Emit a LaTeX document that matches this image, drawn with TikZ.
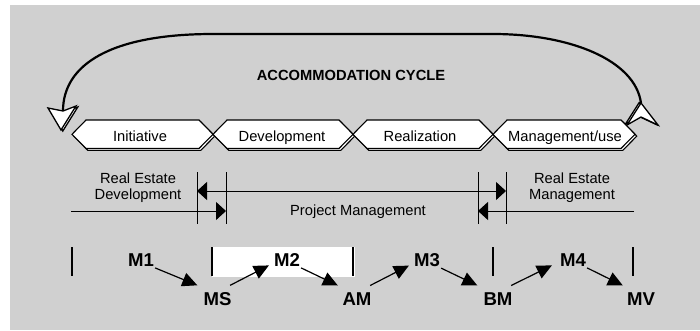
\documentclass[tikz,border=0pt]{standalone}
\usepackage{fontspec}
\setmainfont{Liberation Sans}
\usetikzlibrary{arrows.meta,calc}
\definecolor{bg}{RGB}{208,208,208}
\tikzset{
  hexline/.style={draw=black, line width=1.1pt, fill=white, line join=miter},
  hextext/.style={font=\fontsize{14.7}{16}\selectfont, anchor=base, inner sep=0pt},
  lbl/.style={font=\fontsize{14.7}{16}\selectfont, align=center, inner sep=0pt},
  titlelbl/.style={font=\fontsize{14.7}{16}\selectfont\bfseries, anchor=base, inner sep=0pt},
  mlbl/.style={font=\fontsize{18.6}{20}\selectfont\bfseries, anchor=base, inner sep=1pt},
  dimline/.style={line width=1pt},
  endtip/.style={-{Triangle[length=10pt,width=18pt]}},
  bothtip/.style={{Triangle[length=10pt,width=18pt]}-{Triangle[length=10pt,width=18pt]}},
  marrow/.style={line width=1.2pt, -{Triangle[length=15pt,width=14pt]}},
  tickline/.style={line width=1.2pt},
  cyc/.style={line width=2.2pt},
  headshape/.style={draw=black, line width=1.3pt, fill=white, line join=miter},
}
\begin{document}
\begin{tikzpicture}[x=1pt,y=-1pt]
\useasboundingbox (0,0) rectangle (700,330);
\fill[bg] (10,5) rectangle (700,330);

% cycle arc
\coordinate (cycstart) at (641,103);
\coordinate (cycend) at (63,111);
\draw[cyc] (cycstart) .. controls (635,60) and (570,34) .. (493,34) -- (213,34) .. controls (110,34) and (63,65) .. (cycend);

% arrowheads of the cycle
\draw[headshape, shift={(1.8,1)}] (48,108) -- (63,111) -- (76,106) -- (61,130) -- cycle;
\draw[headshape] (48,108) -- (63,111) -- (76,106) -- (61,130) -- cycle;
\draw[headshape, shift={(-1.8,-0.5)}] (641,103) -- (658,125) -- (641,117) -- (627,125) -- cycle;
\draw[headshape] (641,103) -- (658,125) -- (641,117) -- (627,125) -- cycle;

\node[titlelbl] (title) at (351,80.5) {ACCOMMODATION CYCLE};

% phase hexagons
\foreach \a/\b in {72/213,213/353,353/493,493/635}{
  \draw[hexline, shift={(1.8,1.8)}] (\a,134.3) -- ({\a+14},120) -- ({\b-14},120) -- (\b,134.3) -- ({\b-14},148.5) -- ({\a+14},148.5) -- cycle;
}
\foreach \a/\b in {72/213,213/353,353/493,493/635}{
  \draw[hexline] (\a,134.3) -- ({\a+14},120) -- ({\b-14},120) -- (\b,134.3) -- ({\b-14},148.5) -- ({\a+14},148.5) -- cycle;
}
\node[hextext] (hi) at (140,141.5) {Initiative};
\node[hextext] (hd) at (282,141.5) {Development};
\node[hextext] (hr) at (420,141.5) {Realization};
\node[hextext] (hm) at (565,141.5) {Management/use};

% responsibility lines
\coordinate (v1t) at (197,172); \coordinate (v1b) at (197,224);
\coordinate (v2t) at (226,172); \coordinate (v2b) at (226,224);
\coordinate (v3t) at (478,172); \coordinate (v3b) at (478,224);
\coordinate (v4t) at (506,172); \coordinate (v4b) at (506,224);
\draw[dimline] (v1t) -- (v1b);
\draw[dimline] (v2t) -- (v2b);
\draw[dimline] (v3t) -- (v3b);
\draw[dimline] (v4t) -- (v4b);
\coordinate (a1) at (71,211); \coordinate (a2) at (226,211);
\coordinate (b1) at (197,191); \coordinate (b2) at (506,191);
\coordinate (c1) at (634,211); \coordinate (c2) at (478,211);
\draw[dimline, endtip] (a1) -- (a2);
\draw[dimline, bothtip] (b1) -- (b2);
\draw[dimline, endtip] (c1) -- (c2);

\node[lbl] (red) at (138,187.5) {Real Estate\\Development};
\node[lbl, anchor=base] (pm) at (358,215.7) {Project Management};
\node[lbl] (rem) at (572,187.5) {Real Estate\\Management};

% milestones
\fill[white] (212,247) rectangle (355,277);
\foreach \x in {72,212,353,493,633}{
  \draw[tickline] (\x,247) -- (\x,276);
}
\node[mlbl] (m1) at (141,266.7) {M1};
\node[mlbl] (ms) at (217.5,305) {MS};
\node[mlbl] (m2) at (287,266.7) {M2};
\node[mlbl] (am) at (357,305) {AM};
\node[mlbl] (m3) at (427,266.7) {M3};
\node[mlbl] (bm) at (498,305) {BM};
\node[mlbl] (m4) at (573,266.7) {M4};
\node[mlbl] (mv) at (641,305) {MV};

\draw[marrow] (m1.south east) -- ($(ms.north west)+(-5,-5.5)$);
\draw[marrow] ($(ms.north east)+(-2.5,-5.5)$) -- ($(m2.south west)+(-4,-2.5)$);
\draw[marrow] (m2.south east) -- ($(am.north west)+(-3.5,-5.5)$);
\draw[marrow] ($(am.north east)+(-2.5,-5.5)$) -- ($(m3.south west)+(-4,-2.5)$);
\draw[marrow] (m3.south east) -- ($(bm.north west)+(-5,-5.5)$);
\draw[marrow] ($(bm.north east)+(-2.5,-5.5)$) -- ($(m4.south west)+(-7,-2.5)$);
\draw[marrow] (m4.south east) -- ($(mv.north west)+(-3,-5.5)$);
\end{tikzpicture}
\end{document}
